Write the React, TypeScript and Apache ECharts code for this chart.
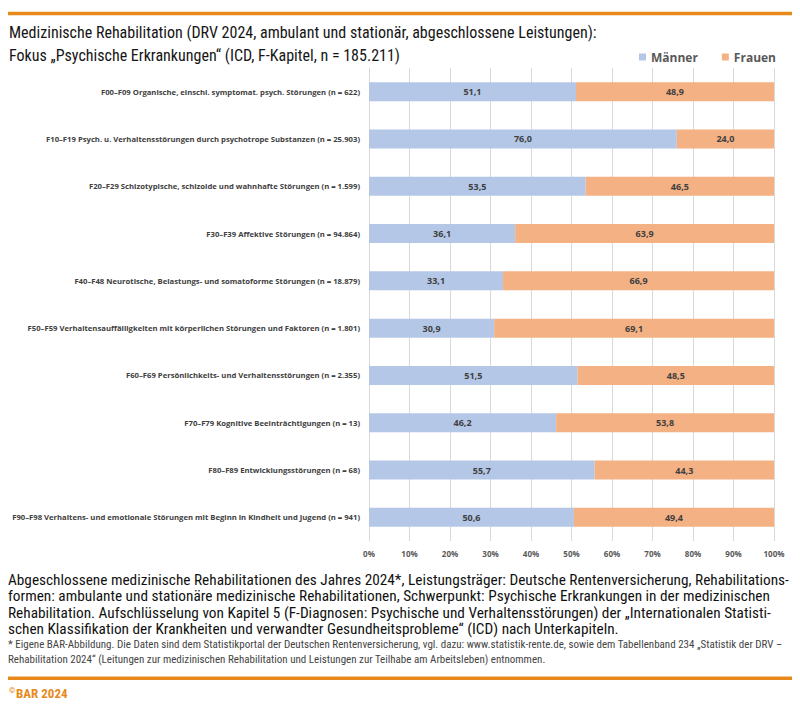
import React, { useEffect, useRef } from "react";
import * as echarts from "echarts";

const categories = [
  "F00–F09 Organische, einschl. symptomat. psych. Störungen (n = 622)",
  "F10–F19 Psych. u. Verhaltensstörungen durch psychotrope Substanzen (n = 25.903)",
  "F20–F29 Schizotypische, schizoide und wahnhafte Störungen (n = 1.599)",
  "F30–F39 Affektive Störungen (n = 94.864)",
  "F40–F48 Neurotische, Belastungs- und somatoforme Störungen (n = 18.879)",
  "F50–F59 Verhaltensauffälligkeiten mit körperlichen Störungen und Faktoren (n = 1.801)",
  "F60–F69 Persönlichkeits- und Verhaltensstörungen (n = 2.355)",
  "F70–F79 Kognitive Beeinträchtigungen (n = 13)",
  "F80–F89 Entwicklungsstörungen (n = 68)",
  "F90–F98 Verhaltens- und emotionale Störungen mit Beginn in Kindheit und Jugend (n = 941)",
];
const maenner = [51.1, 76.0, 53.5, 36.1, 33.1, 30.9, 51.5, 46.2, 55.7, 50.6];
const frauen = [48.9, 24.0, 46.5, 63.9, 66.9, 69.1, 48.5, 53.8, 44.3, 49.4];

const titleLines = [
  "Medizinische Rehabilitation (DRV 2024, ambulant und stationär, abgeschlossene Leistungen):",
  "Fokus „Psychische Erkrankungen“ (ICD, F-Kapitel, n = 185.211)",
];
const descLines = [
  "Abgeschlossene medizinische Rehabilitationen des Jahres 2024*, Leistungsträger: Deutsche Rentenversicherung, Rehabilitations-",
  "formen: ambulante und stationäre medizinische Rehabilitationen, Schwerpunkt: Psychische Erkrankungen in der medizinischen",
  "Rehabilitation. Aufschlüsselung von Kapitel 5 (F-Diagnosen: Psychische und Verhaltensstörungen) der „Internationalen Statisti-",
  "schen Klassifikation der Krankheiten und verwandter Gesundheitsprobleme“ (ICD) nach Unterkapiteln.",
];
const noteLines = [
  "* Eigene BAR-Abbildung. Die Daten sind dem Statistikportal der Deutschen Rentenversicherung, vgl. dazu: www.statistik-rente.de, sowie dem Tabellenband 234 „Statistik der DRV –",
  "Rehabilitation 2024“ (Leitungen zur medizinischen Rehabilitation und Leistungen zur Teilhabe am Arbeitsleben) entnommen.",
];

const NARROW = "'Liberation Sans Narrow', 'Roboto Condensed', 'Arial Narrow', sans-serif";
const ORANGE = "#e8891c";
const BLUE = "#b4c7e7";
const PEACH = "#f4b183";

export default function App() {
  const ref = useRef<HTMLDivElement>(null);
  useEffect(() => {
    const chart = echarts.init(ref.current!, null, { renderer: "svg" });
    const labelFmt = (p: any) => Number(p.value).toFixed(1).replace(".", ",");
    const graphics: any[] = [
      { id: "topline", type: "line", z: 10, shape: { x1: 8, y1: 13.5, x2: 792, y2: 13.5 }, style: { stroke: ORANGE, lineWidth: 3.5 } },
      { id: "botline", type: "line", z: 10, shape: { x1: 8, y1: 678.2, x2: 792, y2: 678.2 }, style: { stroke: ORANGE, lineWidth: 3.5 } },
      ...titleLines.map((t, i) => ({
        id: "title" + i,
        type: "text",
        x: 9,
        y: 32 + i * 23,
        style: { text: t, font: `16px ${NARROW}`, fill: "#151515", textVerticalAlign: "middle" },
      })),
      ...descLines.map((t, i) => ({
        id: "desc" + i,
        type: "text",
        x: 8,
        y: 580 + i * 16.3,
        style: { text: t, font: `15.3px ${NARROW}`, fill: "#111", textVerticalAlign: "middle" },
      })),
      ...noteLines.map((t, i) => ({
        id: "note" + i,
        type: "text",
        x: 8,
        y: 644 + i * 15,
        style: { text: t, font: `11px ${NARROW}`, fill: "#444", textVerticalAlign: "middle" },
      })),
      {
        id: "copy",
        type: "text",
        x: 9,
        y: 690,
        style: { text: "©", font: `bold 8px ${NARROW}`, fill: ORANGE, textVerticalAlign: "middle" },
      },
      {
        id: "bar",
        type: "text",
        x: 16,
        y: 693,
        style: { text: "BAR 2024", font: `bold 13px ${NARROW}`, fill: ORANGE, textVerticalAlign: "middle" },
      },
    ];
    chart.setOption({
      animation: false,
      backgroundColor: "#fff",
      legend: {
        right: 19,
        top: 46,
        itemWidth: 7,
        itemHeight: 7,
        itemGap: 24,
        icon: "rect",
        textStyle: { fontSize: 12, fontWeight: "bold", color: "#595959", fontFamily: "'Open Sans', sans-serif" },
        data: ["Männer", "Frauen"],
      },
      grid: { left: 369, right: 26, top: 68, bottom: 171, containLabel: false, outerBoundsMode: "none" },
      xAxis: {
        type: "value",
        min: 0,
        max: 100,
        interval: 10,
        axisLabel: {
          formatter: "{value}%",
          fontSize: 8,
          fontWeight: "bold",
          color: "#595959",
          fontFamily: "'Open Sans', sans-serif",
          margin: 8,
        },
        splitLine: { show: true, lineStyle: { color: "#d9d9d9", width: 1 } },
        axisLine: { show: false },
        axisTick: { show: false },
      },
      yAxis: {
        type: "category",
        inverse: true,
        data: categories,
        axisLine: { show: true, lineStyle: { color: "#d9d9d9" } },
        axisTick: { show: false },
        axisLabel: {
          fontSize: 7.7,
          fontWeight: "bold",
          color: "#404040",
          fontFamily: "'Open Sans', sans-serif",
          margin: 9,
        },
      },
      series: [
        {
          name: "Männer",
          type: "bar",
          stack: "all",
          barWidth: 19,
          data: maenner,
          itemStyle: { color: BLUE },
          label: { show: true, position: "inside", formatter: labelFmt, fontSize: 9, fontWeight: "bold", color: "#404040", fontFamily: "'Open Sans', sans-serif" },
        },
        {
          name: "Frauen",
          type: "bar",
          stack: "all",
          barWidth: 19,
          data: frauen,
          itemStyle: { color: PEACH },
          label: { show: true, position: "inside", formatter: labelFmt, fontSize: 9, fontWeight: "bold", color: "#404040", fontFamily: "'Open Sans', sans-serif" },
        },
      ],
      graphic: { elements: graphics },
    });
    return () => chart.dispose();
  }, []);
  return <div ref={ref} style={{ position: "absolute", left: 0, top: 0, width: 800, height: 712 }} />;
}
